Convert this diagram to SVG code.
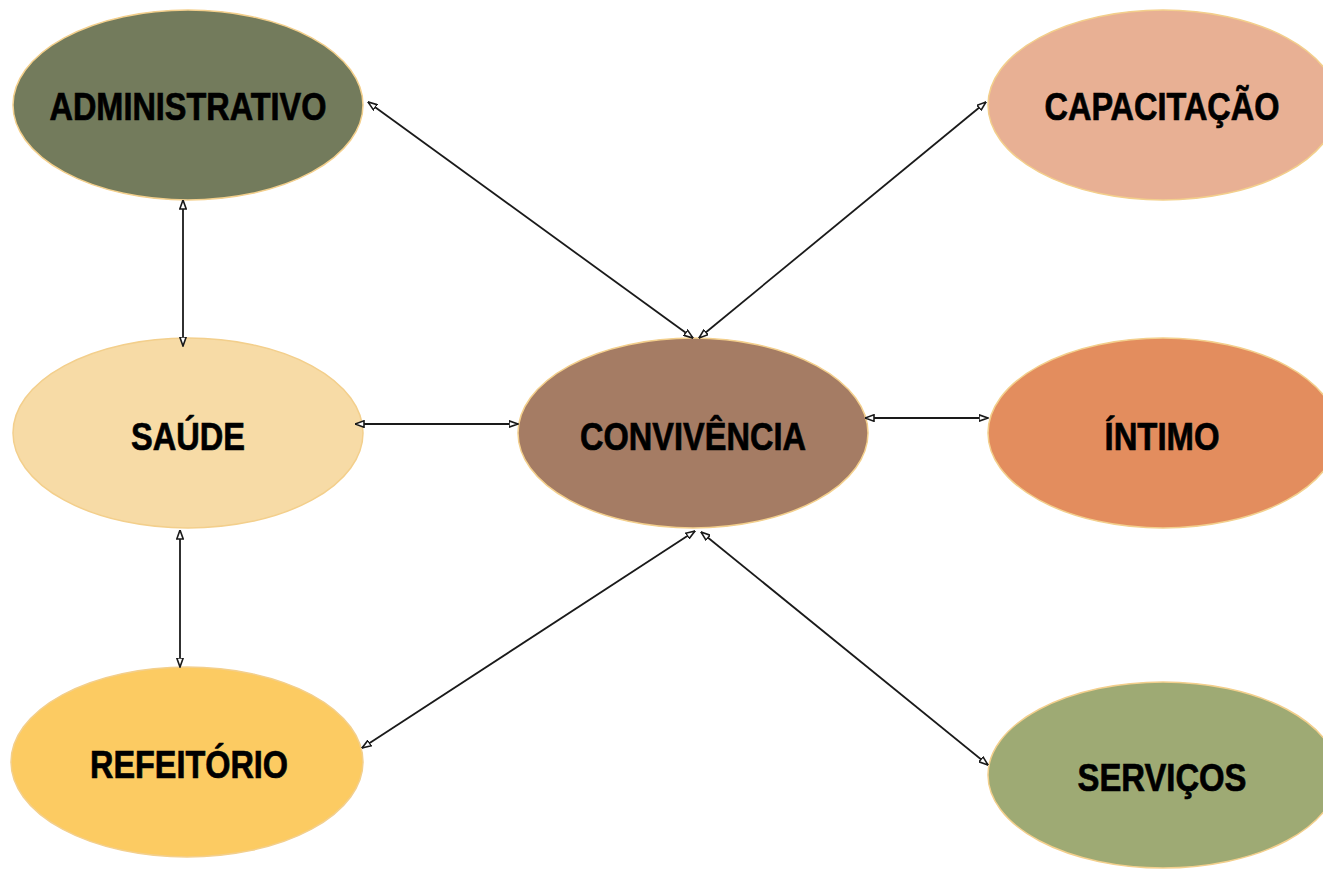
<svg xmlns="http://www.w3.org/2000/svg" width="1323" height="869" viewBox="0 0 1323 869">
<style>
.node ellipse{stroke:#F3CF8C;stroke-width:1.5}
.node text{font-family:"Liberation Sans Narrow","Arial Narrow","Liberation Sans",sans-serif;font-weight:bold;font-size:39px;fill:#000;stroke:#000;stroke-width:0.7;text-anchor:middle}
.conn line{stroke:#1a1a1a;stroke-width:1.8;fill:none;marker-start:url(#ah);marker-end:url(#ah)}
</style>
<defs>
<marker id="ah" viewBox="0 0 10 8" refX="9.5" refY="4" markerWidth="10" markerHeight="8" markerUnits="userSpaceOnUse" orient="auto-start-reverse">
<path d="M0.5,0.8 L9.5,4 L0.5,7.2 Z" fill="#fff" stroke="#1a1a1a" stroke-width="1.6"/>
</marker>
</defs>
<rect width="1323" height="869" fill="#fff"/>
<g id="administrativo" class="node"><ellipse cx="188" cy="105" rx="175" ry="95" fill="#737B5C"/><text x="188" y="120" textLength="277" lengthAdjust="spacingAndGlyphs">ADMINISTRATIVO</text></g>
<g id="capacitacao" class="node"><ellipse cx="1163" cy="105" rx="175" ry="95" fill="#E8B094"/><text x="1162" y="120" textLength="235" lengthAdjust="spacingAndGlyphs">CAPACITAÇÃO</text></g>
<g id="saude" class="node"><ellipse cx="188" cy="433" rx="175" ry="95" fill="#F7DBA6"/><text x="188" y="450" textLength="114" lengthAdjust="spacingAndGlyphs">SAÚDE</text></g>
<g id="convivencia" class="node"><ellipse cx="693" cy="433" rx="175" ry="95" fill="#A57C64"/><text x="693" y="450" textLength="226" lengthAdjust="spacingAndGlyphs">CONVIVÊNCIA</text></g>
<g id="intimo" class="node"><ellipse cx="1163" cy="433" rx="175" ry="95" fill="#E38D5E"/><text x="1162" y="450" textLength="115" lengthAdjust="spacingAndGlyphs">ÍNTIMO</text></g>
<g id="refeitorio" class="node"><ellipse cx="187" cy="762" rx="176" ry="95" fill="#FCCB62"/><text x="189" y="778" textLength="198" lengthAdjust="spacingAndGlyphs">REFEITÓRIO</text></g>
<g id="servicos" class="node"><ellipse cx="1163" cy="775" rx="175" ry="93" fill="#9EAA74"/><text x="1162" y="791" textLength="169" lengthAdjust="spacingAndGlyphs">SERVIÇOS</text></g>
<g id="connectors" class="conn">
<line x1="368" y1="102" x2="693" y2="338"/>
<line x1="986" y1="102" x2="699" y2="338"/>
<line x1="183" y1="200" x2="183" y2="346"/>
<line x1="355" y1="424" x2="518" y2="424"/>
<line x1="865" y1="418" x2="988" y2="418"/>
<line x1="180" y1="530" x2="180" y2="667"/>
<line x1="362" y1="748" x2="695" y2="531"/>
<line x1="701" y1="532" x2="988" y2="765"/>
</g>
</svg>
